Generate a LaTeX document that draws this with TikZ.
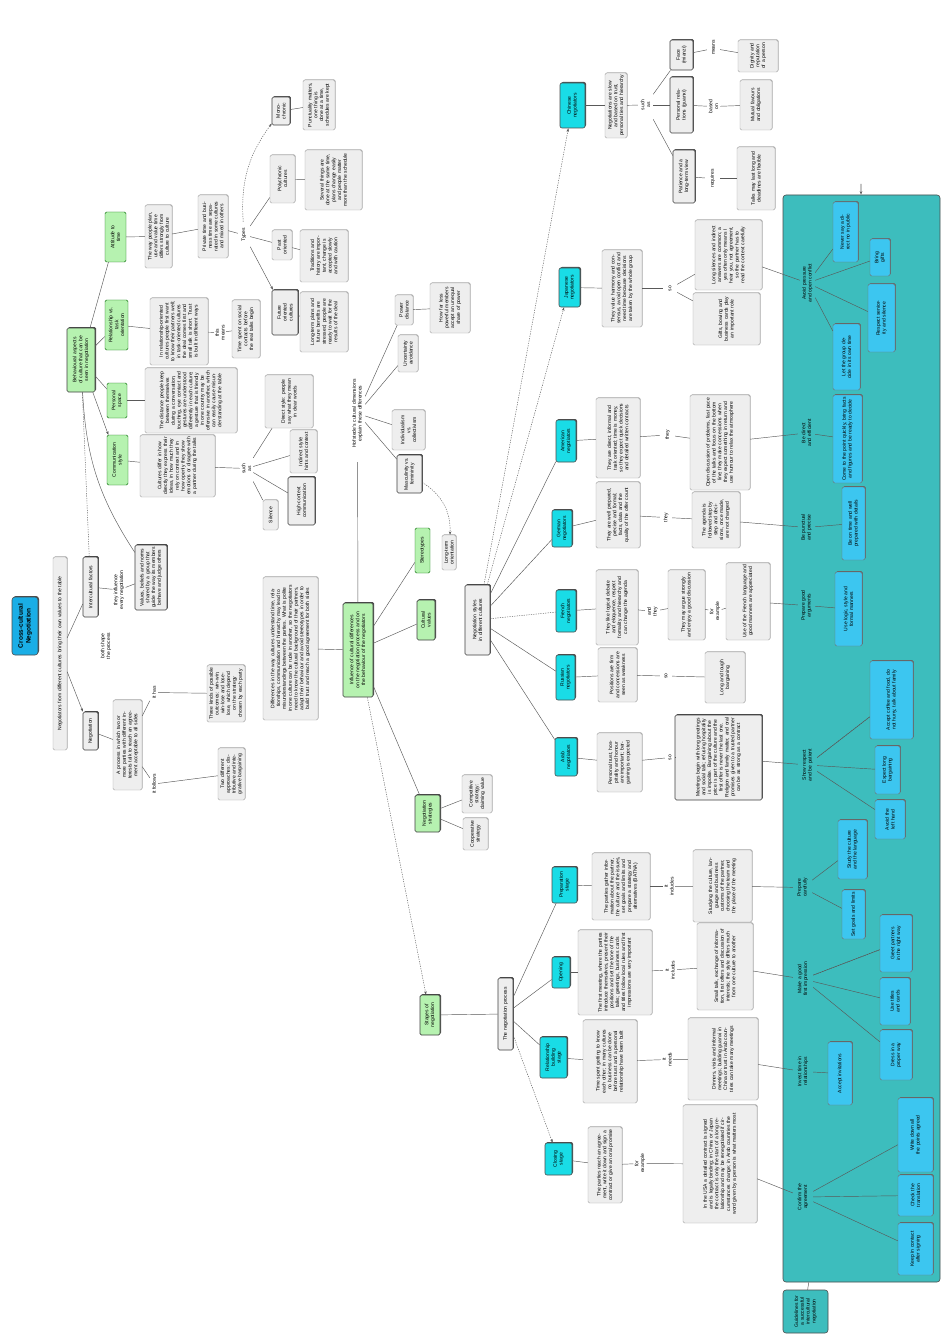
\documentclass[tikz,border=0pt]{standalone}
\usepackage{fontspec}
\setmainfont{Liberation Sans}
\usetikzlibrary{arrows.meta,positioning,shadows}
\definecolor{boxgray}{HTML}{EEEEEE}
\definecolor{mapgreen}{HTML}{B6F2B0}
\definecolor{mapcyan}{HTML}{19DCE6}
\definecolor{mapsky}{HTML}{3CC6F0}
\definecolor{mapteal}{HTML}{3DBDBD}
\definecolor{mapblue}{HTML}{1AAEE6}

% node from its box: style, name, x1, x2, y1, y2 (portrait pixels), text
\newcommand{\mapnode}[7]{%
  \pgfmathsetmacro{\mnw}{#6-#5}%
  \pgfmathsetmacro{\mnh}{#4-#3}%
  \pgfmathsetmacro{\mnt}{max(#6-#5-4,4)}%
  \node[#1, minimum width=\mnw pt, minimum height=\mnh pt, text width=\mnt pt] (#2) at ({(#3+#4)/2},{(#5+#6)/2}) {#7};}

\begin{document}
\begin{tikzpicture}[x=1pt,y=-1pt]
\tikzstyle{base}=[rotate=90, align=center, inner sep=1.2pt, font=\fontsize{5}{5.8}\selectfont]
\tikzstyle{gbox}=[base, draw=gray!70, fill=boxgray, rounded corners=1.5pt, drop shadow={shadow xshift=0.6pt, shadow yshift=0.6pt, fill=black!35, opacity=1}]
\tikzstyle{dbox}=[gbox, draw=black!75, line width=0.6pt, drop shadow={shadow xshift=0.9pt, shadow yshift=0.9pt, fill=black!70, opacity=1}]
\tikzstyle{grn}=[base, draw=green!40!black, fill=mapgreen, rounded corners=1.5pt]
\tikzstyle{grnd}=[grn, draw=black!75, line width=0.7pt, drop shadow={shadow xshift=1pt, shadow yshift=1pt, fill=black!70, opacity=1}]
\tikzstyle{cyn}=[base, draw=black!70, fill=mapcyan, line width=0.6pt, rounded corners=2pt, drop shadow={shadow xshift=1pt, shadow yshift=1pt, fill=black!70, opacity=1}]
\tikzstyle{qbx}=[base, draw=black!55, fill=mapsky, rounded corners=1.5pt, drop shadow={shadow xshift=0.8pt, shadow yshift=0.8pt, fill=black!60, opacity=1}]
\tikzstyle{lbl}=[base]
\tikzstyle{ttl}=[base, draw=black!70, fill=mapblue, line width=0.6pt, rounded corners=3pt, font=\fontsize{6.5}{7.8}\selectfont\bfseries, drop shadow={shadow xshift=1pt, shadow yshift=1pt, fill=black!70, opacity=1}]
\tikzstyle{pnl}=[base, draw=black!70, fill=mapteal, line width=0.6pt, rounded corners=3pt]
\tikzstyle{ln}=[draw=black!65, line width=0.45pt]
\tikzstyle{dsh}=[ln, dash pattern=on 1.2pt off 1.2pt]
\tikzstyle{arr}=[-{Stealth[length=3.5pt,width=2.5pt]}]

\useasboundingbox (0,0) rectangle (941,1337);
\fill[white] (0,0) rectangle (941,1337);

% panel with the guidelines
\mapnode{pnl}{panel}{783}{940}{195}{1282}{}
\mapnode{pnl}{BN}{783}{828}{1290}{1333}{Guidelines for a successful intercultural negotiation}
\coordinate (tick) at (861,184);

% title and top part
\mapnode{ttl}{T}{12}{38}{597}{655}{Cross-cultural\\Negotiation}
\mapnode{gbox}{L0}{53}{67}{557}{750}{Negotiators from different cultures bring their own values to the table}
\mapnode{dbox}{N1}{83}{98}{712}{750}{Negotiation}
\mapnode{dbox}{N2}{83}{98}{557}{617}{Intercultural factors}
\mapnode{lbl}{lab1}{100}{112}{630}{662}{both shape\\the process}
\mapnode{gbox}{B1}{113}{142}{700}{790}{A process in which two or more parties with different interests talk to reach an agreement acceptable to all sides}
\mapnode{lbl}{lab2}{150}{158}{675}{710}{it has}
\mapnode{lbl}{lab3}{150}{158}{768}{800}{it follows}
\mapnode{gbox}{B2}{207}{245}{665}{722}{Three kinds of possible outcomes: win-win, win-lose and lose-lose, which depend on the strategy chosen by each party}
\mapnode{gbox}{B3}{218}{245}{748}{800}{Two different approaches: distributive and integrative bargaining}
\mapnode{lbl}{labN2}{113}{125}{565}{615}{they influence\\every negotiation}
\mapnode{dbox}{B4}{135}{167}{545}{610}{Values, beliefs and norms shared by a group that guide the way its members behave and judge others}
\mapnode{gbox}{BD}{263}{318}{577}{720}{Differences in the way cultures understand time, relationships, communication and hierarchy may lead to misunderstandings between the parties. What is polite in one culture can be rude in another, so the negotiators need to know the cultural background of their partners, adapt their behaviour and avoid stereotypes in order to build trust and reach a good agreement for both sides}
\mapnode{grnd}{M}{343}{373}{603}{697}{Influence of cultural differences on the negotiation process and on the behaviour of the negotiators}

% behaviour
\mapnode{grnd}{G0}{67}{95}{328}{392}{Behavioural aspects of culture that can be seen in negotiation}
\mapnode{grn}{G1}{105}{126}{212}{262}{Attitude to\\time}
\mapnode{grn}{G2}{105}{128}{300}{350}{Relationship vs.\\task\\orientation}
\mapnode{grn}{G3}{107}{127}{383}{418}{Personal\\space}
\mapnode{grn}{G4}{107}{128}{435}{485}{Communication\\style}
\mapnode{gbox}{B5}{145}{172}{205}{268}{The way people plan, use and value time differs strongly from culture to culture}
\mapnode{gbox}{B16}{198}{228}{195}{258}{Private time and business time are separated in some cultures and mixed in others}
\mapnode{lbl}{lab7}{238}{250}{222}{248}{Types}
\mapnode{dbox}{B17}{272}{290}{97}{125}{Mono-\\chronic}
\mapnode{gbox}{B18}{270}{295}{155}{203}{Polychronic\\cultures}
\mapnode{gbox}{B19}{272}{292}{230}{260}{Past\\oriented}
\mapnode{dbox}{B8}{272}{298}{290}{335}{Future\\oriented\\cultures}
\mapnode{gbox}{B20}{303}{335}{80}{130}{Punctuality matters, one thing is done at a time, schedules are kept}
\mapnode{gbox}{B21}{305}{362}{150}{210}{Several things are done at the same time, plans change easily and people matter more than the schedule}
\mapnode{gbox}{B22}{300}{348}{230}{282}{Traditions and history are important, change is accepted slowly and with caution}
\mapnode{gbox}{B9}{300}{348}{292}{352}{Long-term plans and future benefits are stressed, people are ready to wait for the results of the deal}
\mapnode{gbox}{B6}{150}{208}{298}{365}{In relationship-oriented cultures people first want to know their partners well; in task-oriented cultures the deal comes first and small talk is short. Trust is built in different ways}
\mapnode{lbl}{lab5}{215}{225}{320}{345}{this\\means}
\mapnode{gbox}{B7}{232}{260}{300}{358}{Time spent on social contacts before the real talks begin}
\mapnode{gbox}{B10}{145}{237}{368}{433}{The distance people keep between themselves during a conversation, touching, eye contact and gestures are understood differently in each culture; a gesture that is friendly in one country may be offensive in another, which can easily cause misunderstanding at the table}
\mapnode{gbox}{B11}{140}{215}{435}{497}{Cultures differ in how directly they express their ideas, in how much they rely on context and in how openly they show emotions or disagree with a partner during the talks}
\mapnode{lbl}{lab6}{240}{253}{455}{482}{such\\as}
\mapnode{gbox}{B15}{265}{313}{375}{428}{Direct style: people say what they mean in clear words}
\mapnode{gbox}{B14}{290}{317}{430}{473}{Indirect style: hints and context}
\mapnode{dbox}{B13}{288}{315}{477}{525}{High-context communication}
\mapnode{gbox}{B12}{263}{278}{500}{530}{Silence}

% dimensions
\mapnode{lbl}{lab8}{350}{365}{365}{462}{Hofstede's cultural dimensions\\explain these differences}
\mapnode{gbox}{C1}{395}{413}{295}{325}{Power\\distance}
\mapnode{gbox}{C2}{398}{418}{335}{372}{Uncertainty\\avoidance}
\mapnode{gbox}{C3}{392}{425}{410}{450}{Individualism vs.\\collectivism}
\mapnode{dbox}{C4}{397}{422}{455}{493}{Masculinity vs.\\femininity}
\mapnode{gbox}{C5}{430}{470}{283}{333}{How far less powerful members accept an unequal share of power}
\mapnode{gbox}{C6}{442}{456}{535}{570}{Long-term\\orientation}
\mapnode{grn}{GA}{415}{430}{528}{573}{Stereotypes}
\mapnode{grnd}{GB}{417}{435}{600}{640}{Cultural\\values}
\mapnode{grnd}{GC}{415}{440}{795}{832}{Negotiation\\strategies}
\mapnode{grnd}{GD}{420}{440}{995}{1035}{Stages of\\negotiation}
\mapnode{gbox}{B23}{462}{492}{775}{813}{Competitive strategy: claiming value}
\mapnode{gbox}{B24}{463}{488}{818}{850}{Cooperative\\strategy}
\mapnode{dbox}{CU}{465}{490}{585}{655}{Negotiation styles in different cultures}
\mapnode{dbox}{TH}{498}{513}{978}{1050}{The negotiation process}

% cultures
\mapnode{cyn}{K1}{560}{585}{83}{128}{Chinese\\negotiators}
\mapnode{cyn}{K2}{559}{580}{268}{307}{Japanese\\negotiators}
\mapnode{cyn}{K3}{556}{576}{420}{462}{American\\negotiators}
\mapnode{cyn}{K4}{552}{572}{510}{547}{German\\negotiators}
\mapnode{cyn}{K5}{556}{576}{590}{632}{French\\negotiators}
\mapnode{cyn}{K6}{556}{575}{655}{700}{Russian\\negotiators}
\mapnode{cyn}{K7}{555}{577}{738}{776}{Arab\\negotiators}
\mapnode{cyn}{K8}{552}{577}{867}{903}{Preparation\\stage}
\mapnode{cyn}{K9}{552}{570}{957}{988}{Opening}
\mapnode{cyn}{K10}{540}{567}{1037}{1078}{Relationship\\building\\stage}
\mapnode{cyn}{K11}{545}{572}{1143}{1175}{Closing\\stage}

\mapnode{gbox}{D1}{605}{627}{73}{138}{Negotiations are slow and based on trust, personal ties and hierarchy}
\mapnode{gbox}{D2}{602}{642}{250}{327}{They value harmony and consensus, avoid open conflict and need time because decisions are taken by the whole group}
\mapnode{gbox}{D3}{596}{640}{398}{478}{They are direct, informal and task oriented; time is money, so they expect quick decisions and detailed written contracts}
\mapnode{gbox}{D4}{596}{640}{482}{548}{They are well prepared, precise and formal; facts, data and the quality of the offer count}
\mapnode{gbox}{D5}{596}{638}{570}{645}{They like logical debate and eloquence, respect formality and hierarchy and can change the agenda}
\mapnode{gbox}{D6}{598}{637}{648}{702}{Positions are firm and concessions are seen as weakness}
\mapnode{gbox}{D7}{597}{642}{733}{792}{Personal trust, hospitality and honour are important; bargaining is expected}
\mapnode{gbox}{D8}{592}{650}{853}{920}{The parties gather information about the partner, the culture and the issues, set goals and limits and prepare a strategy and alternatives (BATNA)}
\mapnode{gbox}{D9}{578}{652}{930}{1015}{The first meeting, where the parties introduce themselves, present their positions and set the tone of the talks; greetings, business cards and titles follow local rules and first impressions are very important}
\mapnode{gbox}{D10}{583}{637}{1020}{1103}{Time spent getting to know each other; in many cultures no business can be done before trust and a personal relationship have been built}
\mapnode{gbox}{D11}{588}{622}{1127}{1203}{The parties reach an agreement, write it down and sign a contract or give an oral promise}

\mapnode{lbl}{E1}{638}{653}{90}{120}{such\\as}
\mapnode{lbl}{E2}{663}{677}{277}{300}{so}
\mapnode{lbl}{E3}{660}{675}{420}{450}{they}
\mapnode{lbl}{E4}{660}{672}{505}{530}{they}
\mapnode{lbl}{E5}{645}{660}{598}{625}{and\\they}
\mapnode{lbl}{E6}{660}{672}{662}{690}{so}
\mapnode{lbl}{E7}{665}{675}{745}{770}{so}
\mapnode{lbl}{E8}{663}{675}{873}{900}{it\\includes}
\mapnode{lbl}{E9}{663}{677}{953}{987}{it\\includes}
\mapnode{lbl}{E10}{662}{672}{1047}{1072}{it\\needs}
\mapnode{lbl}{E11}{635}{645}{1147}{1180}{for\\example}

\mapnode{dbox}{F1a}{670}{693}{40}{70}{Face\\(mianzi)}
\mapnode{dbox}{F1b}{670}{693}{77}{133}{Personal relations (guanxi)}
\mapnode{dbox}{F1c}{673}{695}{150}{203}{Patience and a long-term view}
\mapnode{lbl}{e1a}{707}{720}{40}{57}{means}
\mapnode{lbl}{e1b}{707}{720}{90}{123}{based\\on}
\mapnode{lbl}{e1c}{705}{720}{160}{197}{requires}
\mapnode{gbox}{H1a}{738}{778}{40}{72}{Dignity and reputation of a person}
\mapnode{gbox}{H1b}{740}{772}{80}{130}{Mutual favours and obligations}
\mapnode{gbox}{H1c}{737}{775}{147}{210}{Talks may last long and deadlines are flexible}
\mapnode{gbox}{F2a}{695}{762}{220}{290}{Long silences and indirect answers are common; a yes often only means I hear you, not agreement, so the partner has to read the context carefully}
\mapnode{gbox}{F2b}{693}{760}{293}{345}{Gifts, bowing and business cards play an important role}
\mapnode{gbox}{F3}{690}{750}{395}{490}{Open discussion of problems, fast pace of the talks and focus on the bottom line; they make concessions when they expect something in return and use humour to relax the atmosphere}
\mapnode{gbox}{F4}{692}{740}{492}{548}{The agenda is followed step by step and decisions, once made, are not changed}
\mapnode{gbox}{F5}{668}{705}{570}{640}{They may argue strongly and enjoy a good discussion}
\mapnode{lbl}{e5}{710}{720}{598}{625}{for\\example}
\mapnode{gbox}{H5}{726}{770}{563}{640}{Use of the French language and good manners are appreciated}
\mapnode{gbox}{F6}{705}{745}{652}{703}{Long and tough bargaining}
\mapnode{dbox}{F7}{675}{762}{715}{800}{Meetings begin with long greetings and social talk; refusing hospitality is impolite. Bargaining about the price is part of the culture and the first offer is never the last one. Religion and family matter, and oral promises given to a trusted partner can be as strong as a contract}
\mapnode{gbox}{F8}{693}{752}{850}{922}{Studying the culture, language and business customs of the partner, choosing the team and the place of the meeting}
\mapnode{gbox}{F9}{697}{753}{923}{1010}{Small talk, exchange of information, first offers and discussion of interests; the style differs much from one culture to another}
\mapnode{gbox}{F10}{688}{758}{1018}{1100}{Dinners, visits and informal meetings; building guanxi in China or trust in Arab countries can take many meetings}
\mapnode{gbox}{F11}{683}{757}{1105}{1223}{In the USA a detailed contract is signed and is legally binding; in China or Japan the contract is only the start of a long relationship and may be renegotiated if circumstances change; in Arab countries the word given by a person is what matters most}

% inside the panel
\mapnode{lbl}{P1}{800}{815}{248}{318}{Avoid pressure\\and open conflict}
\mapnode{lbl}{P2}{798}{815}{398}{468}{Be direct\\and efficient}
\mapnode{lbl}{P3}{798}{815}{498}{557}{Be punctual\\and precise}
\mapnode{lbl}{P4}{798}{815}{580}{631}{Prepare good\\arguments}
\mapnode{lbl}{P5}{798}{817}{728}{802}{Show respect\\and be patient}
\mapnode{lbl}{P6}{793}{812}{862}{913}{Prepare\\carefully}
\mapnode{lbl}{P7}{793}{813}{953}{1005}{Make a good\\first impression}
\mapnode{lbl}{P8}{793}{813}{1053}{1090}{Invest time in\\relationships}
\mapnode{lbl}{P9}{793}{813}{1164}{1230}{Confirm the\\agreement}
\mapnode{qbx}{Q1a}{833}{858}{202}{262}{Never say a direct no in public}
\mapnode{qbx}{Q1b}{870}{890}{239}{276}{Bring\\gifts}
\mapnode{qbx}{Q1c}{868}{895}{284}{352}{Respect seniority and silence}
\mapnode{qbx}{Q1d}{833}{860}{324}{390}{Let the group decide in its own time}
\mapnode{qbx}{Q2}{833}{862}{395}{483}{Come to the point quickly, bring facts and figures and be ready to decide}
\mapnode{qbx}{Q3}{842}{865}{487}{560}{Be on time and well prepared with details}
\mapnode{qbx}{Q4}{835}{862}{572}{646}{Use logic, style and formal manners}
\mapnode{qbx}{Q5a}{870}{913}{661}{739}{Accept coffee and food, do not hurry, talk about family}
\mapnode{qbx}{Q5b}{875}{900}{746}{794}{Expect long bargaining}
\mapnode{qbx}{Q5c}{875}{905}{800}{839}{Avoid the left hand}
\mapnode{qbx}{Q6a}{838}{867}{820}{879}{Study the culture and the language}
\mapnode{qbx}{Q6b}{842}{865}{890}{939}{Set goals and limits}
\mapnode{qbx}{Q7a}{880}{912}{915}{972}{Greet partners in the right way}
\mapnode{qbx}{Q7b}{880}{910}{978}{1025}{Use titles and cards}
\mapnode{qbx}{Q7c}{880}{912}{1030}{1080}{Dress in a proper way}
\mapnode{qbx}{Q8}{828}{852}{1042}{1105}{Accept invitations}
\mapnode{qbx}{Q9a}{898}{933}{1098}{1172}{Write down all the points agreed}
\mapnode{qbx}{Q9b}{898}{933}{1175}{1216}{Check the translation}
\mapnode{qbx}{Q9c}{898}{933}{1223}{1275}{Keep in contact after signing}

% connectors
\foreach \a/\b in {L0/N2, N1/B1, B1/lab2, lab2/B2, B1/lab3, lab3/B3, N2/labN2, labN2/B4,
  G0/G1, G0/G2, G0/G3, G1/B5, B5/B16, B16/lab7, lab7/B18, lab7/B19, B17/B20, B18/B21, B19/B22, B8/B9,
  G2/B6, B6/lab5, lab5/B7, G3/B10, G4/B11, B11/lab6, lab6/B15, lab6/B14, lab6/B13, lab6/B12,
  M/lab8, lab8/C1, lab8/C2, lab8/C3, lab8/C4, C1/C5, M/BD, M/GA, M/GB, M/GC, GC/B23, GC/B24, GD/TH,
  CU/K3, CU/K4, CU/K6, CU/K7, TH/K8, TH/K9, TH/K10,
  K1/D1, K2/D2, K3/D3, K4/D4, K5/D5, K6/D6, K7/D7, K8/D8, K9/D9, K10/D10, K11/D11,
  D1/E1, E1/F1a, E1/F1b, E1/F1c, F1a/e1a, e1a/H1a, F1b/e1b, e1b/H1b, F1c/e1c, e1c/H1c,
  D2/E2, E2/F2a, E2/F2b, D3/E3, E3/F3, D4/E4, E4/F4, D5/E5, E5/F5, F5/e5, e5/H5, D6/E6, E6/F6,
  D7/E7, E7/F7, D8/E8, E8/F8, D9/E9, E9/F9, D10/E10, E10/F10, D11/E11, E11/F11,
  F2a/P1, F3/P2, F4/P3, H5/P4, F7/P5, F8/P6, F9/P7, F10/P8, F11/P9,
  P1/Q1a, P1/Q1b, P1/Q1c, P1/Q1d, P2/Q2, P3/Q3, P4/Q4, P5/Q5a, P5/Q5b, P5/Q5c,
  P6/Q6a, P6/Q6b, P7/Q7a, P7/Q7b, P7/Q7c, P8/Q8, P9/Q9a, P9/Q9b, P9/Q9c, panel/BN}
  {\draw[ln] (\a) -- (\b);}
\foreach \a/\b in {G0/N2, CU/K5, P5/Q5a, P7/Q7a}{\draw[dsh] (\a) -- (\b);}
\foreach \a/\b in {L0/N1, G0/G4, lab7/B8}{\draw[ln, arr] (\a) -- (\b);}
\foreach \a/\b in {M/GD, CU/K1, CU/K2, TH/K11}{\draw[dsh, arr] (\a) -- (\b);}
\draw[ln] (G0) to[bend right=15] (B4);
\draw[dsh, arr] (lab7) to[bend left=20] (B17);
\draw[dsh, arr] (C4) to[bend left=30] (C6);
\draw[ln, line width=0.8pt, arr] (tick) -- (panel);
\end{tikzpicture}
\end{document}
